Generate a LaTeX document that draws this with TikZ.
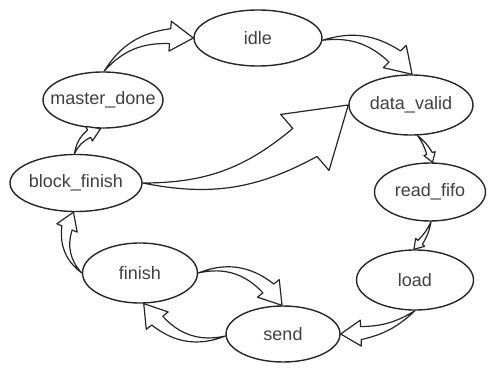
\documentclass[tikz,border=0pt]{standalone}
\usepackage{fontspec}
\setmainfont{Liberation Sans}
\usetikzlibrary{
  shapes.geometric,
  calc
}
\definecolor{lineGray}{gray}{0.15}
\newcommand{\stateNode}[5]{\node[fsm, minimum width=#3, minimum height=#4] (#1) at #2
  {\makebox[0pt]{#5}};}
\newcommand{\fatArrow}[4]{%
  \pgfmathsetmacro{\fatNeg}{-(#1)}
  \pgfmathsetlengthmacro{\fatLen}{1.55*#4}
  \pgfmathsetlengthmacro{\fatShaft}{0.5*#4}
  \coordinate (fatB) at ($(#3)!\fatLen!\fatNeg:(#2)$);
  \coordinate (fatS1) at ($(fatB)!\fatShaft!90:(#3)$);
  \coordinate (fatS2) at ($(fatB)!\fatShaft!-90:(#3)$);
  \coordinate (fatH1) at ($(fatB)!#4!90:(#3)$);
  \coordinate (fatH2) at ($(fatB)!#4!-90:(#3)$);
  \draw[fat] (#2) to[bend left=#1] (fatS1) -- (fatH1) -- (#3)
    -- (fatH2) -- (fatS2) to[bend right=#1] (#2) -- cycle;
}
\tikzset{
  fsm/.style={
    ellipse,
    draw=lineGray,
    line width=0.7pt,
    inner sep=0pt,
    font=\fontsize{9}{11}\selectfont,
    text=black!75
  }
}
\tikzset{
  fat/.style={
    draw=lineGray,
    fill=white,
    line width=0.6pt,
    line join=round
  }
}

\begin{document}
\begin{tikzpicture}[x=0.5pt, y=0.5pt]
    \useasboundingbox (0,0) rectangle (488,-369);

    \stateNode{idle}{(258,-38)}{64pt}{28pt}{idle}
    \stateNode{data}{(411,-105)}{62pt}{30pt}{data\_valid}
    \stateNode{master}{(103,-100)}{60pt}{28pt}{master\_done}
    \stateNode{block}{(76,-183)}{66pt}{28.5pt}{block\_finish}
    \stateNode{read}{(430,-192)}{55.5pt}{29pt}{read\_fifo}
    \stateNode{finish}{(140,-273)}{57.5pt}{30pt}{finish}
    \stateNode{load}{(415,-280)}{58.5pt}{30pt}{load}
    \stateNode{send}{(283,-334)}{57pt}{28pt}{send}

    \foreach \bend/\from/\to/\size in {
      25/master.88/idle.180/7.5pt,
      25/idle.358/data.88/8pt,
      -20/block.0/data.180/18.5pt,
      10/data.-78/read.85/3pt,
      10/read.-88/load.92/3pt,
      15/load.-90/send.0/6.5pt,
      30/finish.0/send.92/7pt,
      30/send.182/finish.-83/7pt,
      30/finish.180/block.-95/5.5pt,
      20/block.93/master.-95/4pt}{
      \fatArrow{\bend}{\from}{\to}{\size}
    }
\end{tikzpicture}
\end{document}
